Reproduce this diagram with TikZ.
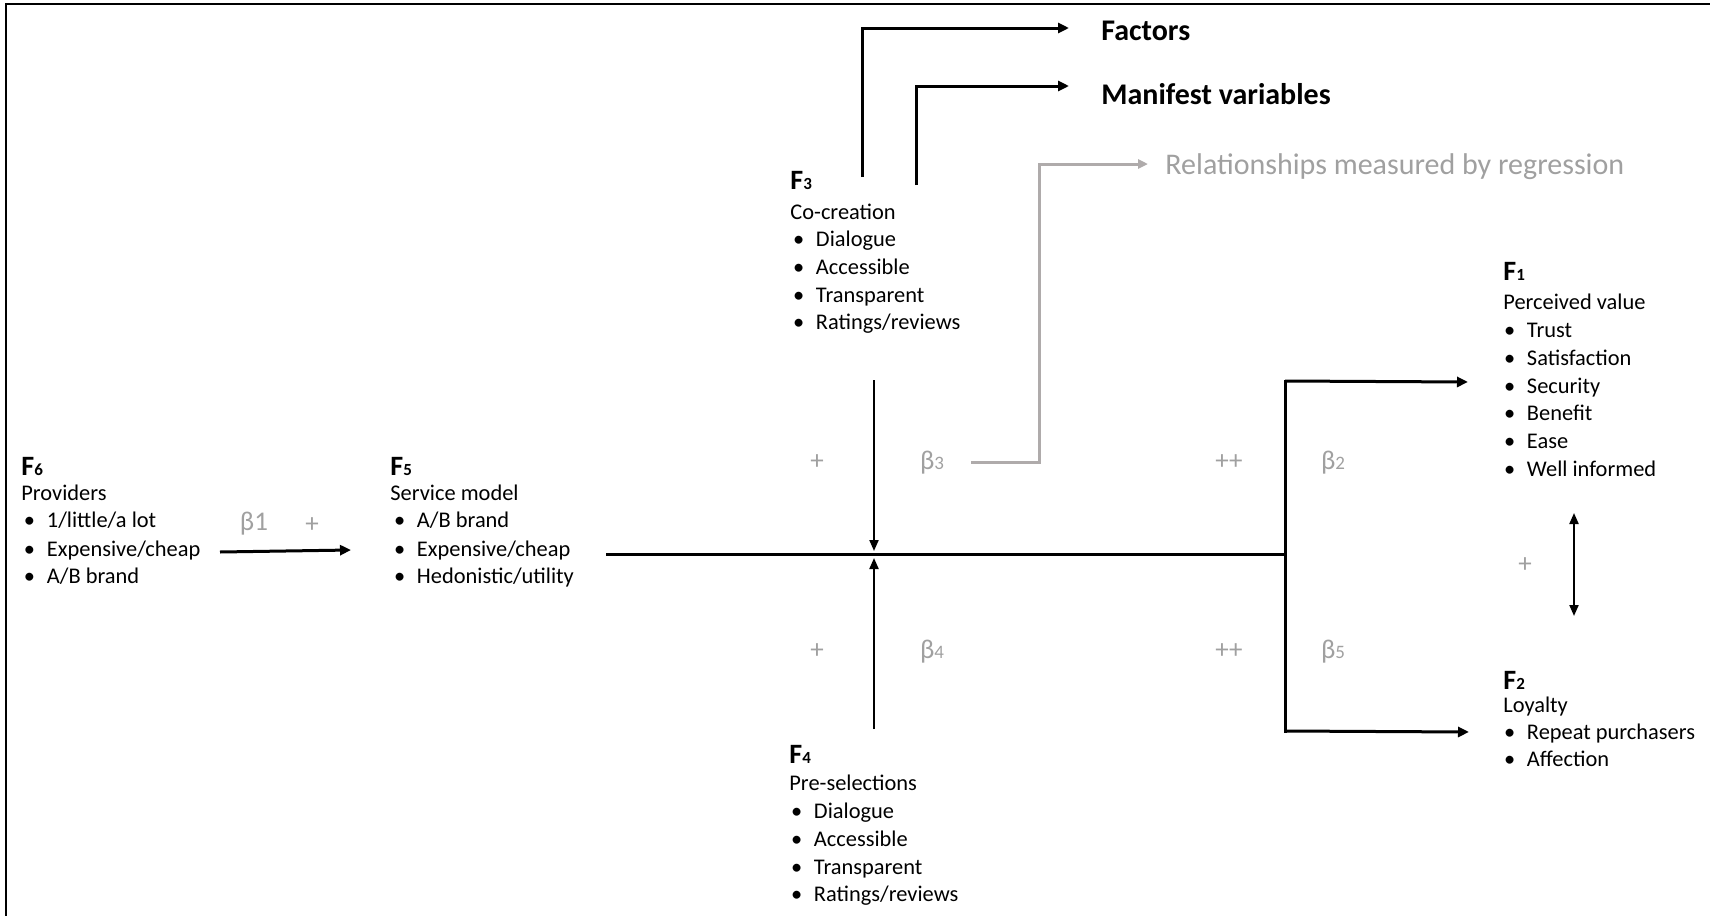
\documentclass[tikz,border=0pt]{standalone}
\usepackage{fontspec}
\setmainfont{Carlito}
\usetikzlibrary{arrows.meta}
\definecolor{lblgray}{RGB}{160,160,160}
\definecolor{linegray}{RGB}{175,171,171}
\newcommand\bodyfont{\fontsize{11.2pt}{13.9pt}\selectfont}
\newcommand\Fhead[1]{\textbf{{\fontsize{14pt}{14pt}\selectfont F}{\fontsize{8.5pt}{8.5pt}\selectfont #1}}}
\newcommand\bet[1]{β{\fontsize{9.5pt}{10pt}\selectfont #1}}
\newcommand\bul[1]{\makebox[10.3pt][l]{\kern-1.2pt•}#1}
\tikzset{
  txt/.style={font=\bodyfont, inner sep=0pt, anchor=west, text height=7.2pt, text depth=2.8pt, yshift=-1.6pt},
  hdr/.style={font=\bodyfont, inner sep=0pt, anchor=west, text height=9pt, text depth=0pt, yshift=0.2pt},
  ttl/.style={font=\fontsize{15pt}{18pt}\selectfont\bfseries, inner sep=0pt, anchor=west, yshift=-1pt},
  gttl/.style={font=\fontsize{15pt}{18pt}\selectfont, text=lblgray, inner sep=0pt, anchor=west, yshift=-1.2pt},
  glab/.style={font=\fontsize{13.5pt}{16pt}\selectfont, text=lblgray, inner sep=0pt, yshift=-1pt},
  thickarr/.style={line width=1.5pt, -{Triangle[length=5.5pt,width=5pt]}},
  thinarr/.style={line width=1pt, -{Triangle[length=5.5pt,width=4.5pt]}},
  thinboth/.style={line width=1pt, {Triangle[length=5.5pt,width=4.5pt]}-{Triangle[length=5.5pt,width=4.5pt]}},
  thickline/.style={line width=1.5pt},
  grayarr/.style={line width=1.5pt, draw=linegray, -{Triangle[length=5pt,width=4.5pt]}}
}
\begin{document}
\begin{tikzpicture}[x=0.5pt,y=-0.5pt]
\useasboundingbox (0,0) rectangle (1710,916);
% frame
\coordinate (frA) at (6,916);
\coordinate (frB) at (6,4);
\coordinate (frC) at (1710,4);
\draw[line width=1.2pt] (frA) -- (frB) -- (frC);

% legend
\node[ttl] (factors) at (1101,29) {Factors};
\node[ttl] (manifest) at (1101,92) {Manifest variables};
\node[gttl] (regr) at (1165,164) {Relationships measured by regression};

% F3
\node[hdr] (F3) at (790,181) {\Fhead{3}};
\node[txt] (F3l) at (790,212) {Co-creation};
\node[txt] (F3a) at (795,239) {\bul{Dialogue}};
\node[txt] (F3b) at (795,267) {\bul{Accessible}};
\node[txt] (F3c) at (795,295) {\bul{Transparent}};
\node[txt] (F3d) at (795,322) {\bul{Ratings/reviews}};

% F4
\node[hdr] (F4) at (789,755) {\Fhead{4}};
\node[txt] (F4l) at (789,783) {Pre-selections};
\node[txt] (F4a) at (793,811) {\bul{Dialogue}};
\node[txt] (F4b) at (793,839) {\bul{Accessible}};
\node[txt] (F4c) at (793,867) {\bul{Transparent}};
\node[txt] (F4d) at (793,894) {\bul{Ratings/reviews}};

% F6
\node[hdr] (F6) at (21,467) {\Fhead{6}};
\node[txt] (F6l) at (21,493) {Providers};
\node[txt] (F6a) at (26,520) {\bul{1/little/a lot}};
\node[txt] (F6b) at (26,549) {\bul{Expensive/cheap}};
\node[txt] (F6c) at (26,576) {\bul{A/B brand}};

% F5
\node[hdr] (F5) at (390,467) {\Fhead{5}};
\node[txt] (F5l) at (390,493) {Service model};
\node[txt] (F5a) at (396,520) {\bul{A/B brand}};
\node[txt] (F5b) at (396,549) {\bul{Expensive/cheap}};
\node[txt] (F5c) at (396,576) {\bul{Hedonistic/utility}};

% F1
\node[hdr] (F1) at (1503,272) {\Fhead{1}};
\node[txt] (F1l) at (1503,302) {Perceived value};
\node[txt] (F1a) at (1506,330) {\bul{Trust}};
\node[txt] (F1b) at (1506,358) {\bul{Satisfaction}};
\node[txt] (F1c) at (1506,386) {\bul{Security}};
\node[txt] (F1d) at (1506,413) {\bul{Benefit}};
\node[txt] (F1e) at (1506,441) {\bul{Ease}};
\node[txt] (F1f) at (1506,469) {\bul{Well informed}};

% F2
\node[hdr] (F2) at (1503,681) {\Fhead{2}};
\node[txt] (F2l) at (1503,705) {Loyalty};
\node[txt] (F2a) at (1506,732) {\bul{Repeat purchasers}};
\node[txt] (F2b) at (1506,759) {\bul{Affection}};

% gray labels
\node[glab] (b1) at (254,522) {β1};
\node[glab] (p1) at (312,523) {+};
\node[glab] (p3) at (817,460) {+};
\node[glab] (b3) at (932,461) {\bet{3}};
\node[glab] (pp2) at (1229,460) {++};
\node[glab] (b2) at (1333,461) {\bet{2}};
\node[glab] (p4) at (817,649) {+};
\node[glab] (b4) at (932,650) {\bet{4}};
\node[glab] (pp5) at (1229,649) {++};
\node[glab] (b5) at (1333,650) {\bet{5}};
\node[glab] (p12) at (1525,563) {+};

% connector coordinates
\coordinate (facS) at (862,177);
\coordinate (facE) at (1069,28);
\coordinate (manS) at (916,185);
\coordinate (manE) at (1069,86);
\coordinate (grS) at (971,462);
\coordinate (grK) at (1039,462);
\coordinate (grE) at (1148,164);
\coordinate (b1S) at (220,552);
\coordinate (b1E) at (351,550);
\coordinate (mainS) at (606,554);
\coordinate (mainE) at (1285,554);
\coordinate (dnS) at (874,380);
\coordinate (dnE) at (874,551);
\coordinate (upS) at (874,729);
\coordinate (upE) at (874,558);
\coordinate (barT) at (1285,380);
\coordinate (barB) at (1285,733);
\coordinate (f1S) at (1285,381);
\coordinate (f1E) at (1468,382);
\coordinate (f2S) at (1285,731);
\coordinate (f2E) at (1469,732);
\coordinate (dbT) at (1574,513);
\coordinate (dbB) at (1574,616);

% connectors
\draw[thickarr] (facS) |- (facE);
\draw[thickarr] (manS) |- (manE);
\draw[grayarr] (grS) -- (grK) |- (grE);
\draw[thickarr] (b1S) -- (b1E);
\draw[thickline] (mainS) -- (mainE);
\draw[thinarr] (dnS) -- (dnE);
\draw[thinarr] (upS) -- (upE);
\draw[thickline] (barT) -- (barB);
\draw[thickarr] (f1S) -- (f1E);
\draw[thickarr] (f2S) -- (f2E);
\draw[thinboth] (dbT) -- (dbB);
\end{tikzpicture}
\end{document}
